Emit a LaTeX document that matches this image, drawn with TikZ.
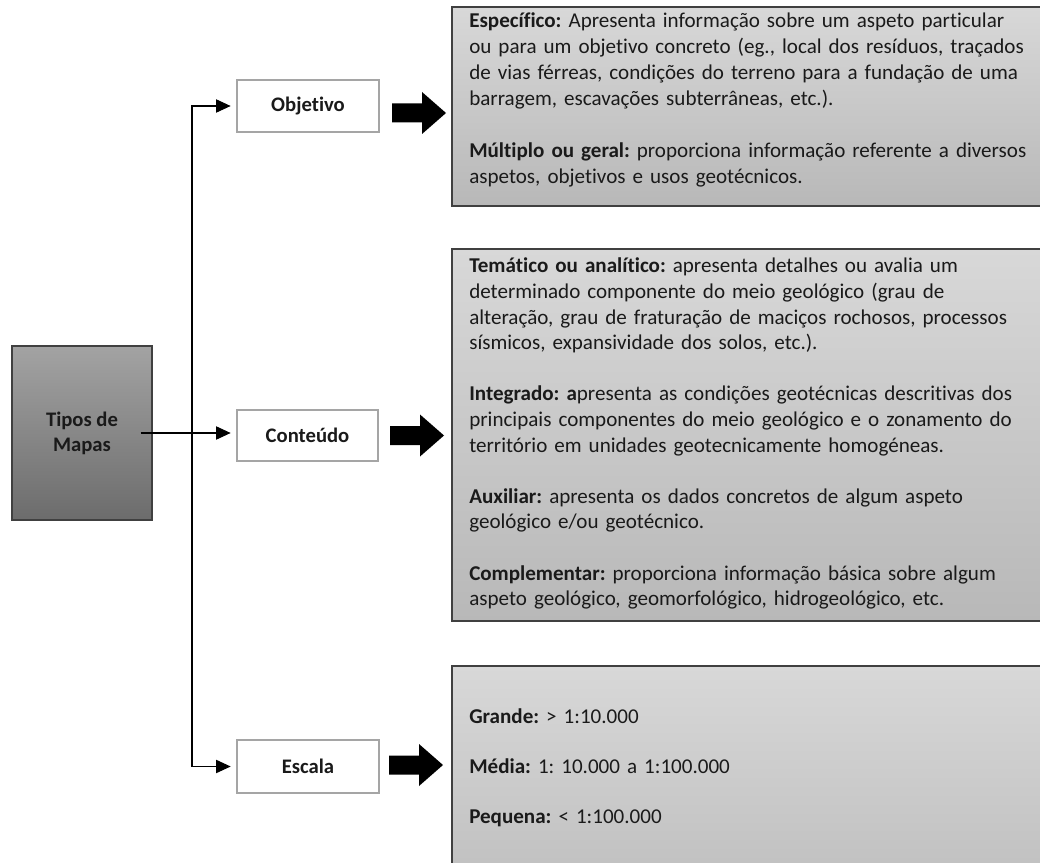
\documentclass[tikz,border=0pt]{standalone}
\usepackage{fontspec}
\setmainfont{Carlito}[Ligatures=NoCommon]
\usetikzlibrary{arrows.meta,fit}
\frenchspacing

\definecolor{inktext}{HTML}{1A1A1A}
\definecolor{boxline}{HTML}{404040}
\definecolor{catline}{HTML}{A5A5A5}
\definecolor{rootTop}{HTML}{A3A3A3}
\definecolor{rootBot}{HTML}{6C6C6C}
\definecolor{infoTop}{HTML}{D8D8D8}
\definecolor{infoBot}{HTML}{B8B8B8}
\definecolor{lowBot}{HTML}{C0C0C0}

\tikzset{
  labelfont/.style={font=\bfseries\fontsize{15.5}{18.75}\selectfont, text=inktext},
  infobox/.style={draw=boxline, line width=1.1pt, inner sep=0pt},
  catbox/.style={draw=catline, line width=1.5pt, fill=white, inner sep=0pt},
  rootbox/.style={draw=boxline, line width=1.1pt, inner sep=0pt,
    top color=rootTop, bottom color=rootBot},
  bodytext/.style={anchor=base west, inner sep=0pt, text width=470pt,
    align=left, text=inktext},
  conn/.style={draw=black, line width=0.8pt,
    -{Triangle[length=11pt,width=10pt]}, shorten >=4pt},
  blockarrow/.pic={
    \fill[black] (0,-9.5) -- (30,-9.5) -- (30,-21) -- (54,0)
      -- (30,21) -- (30,9.5) -- (0,9.5) -- cycle;
  }
}

\begin{document}
\begin{tikzpicture}[x=0.75pt,y=-0.75pt]
  % page frame (also crops the boxes that run off the right and bottom)
  \clip (0,0) rectangle (1040,863);
  \fill[white] (0,0) rectangle (1040,863);

  % description panels
  \node[infobox, top color=infoTop, bottom color=infoBot,
        fit={(452,7) (1048,206)}] (objinfo) {};
  \node[infobox, top color=infoTop, bottom color=infoBot,
        fit={(452,249) (1048,621)}] (continfo) {};
  \node[infobox, top color=infoTop, bottom color=lowBot,
        fit={(452,666) (1048,880)}] (escinfo) {};

  % root and category boxes
  \node[rootbox, fit={(12,346) (152,520)}] (tipos) {};
  \node[labelfont, align=center, inner sep=0pt] (tiposlabel) at (tipos.center) {Tipos de\\Mapas};
  \node[catbox, fit={(237,80) (379,132)}] (obj) {};
  \node[labelfont] (objlabel) at (obj.center) {Objetivo};
  \node[catbox, fit={(237,410) (378,461)}] (cont) {};
  \node[labelfont] (contlabel) at (cont.center) {Conteúdo};
  \node[catbox, fit={(237,740) (379,793)}] (esc) {};
  \node[labelfont] (esclabel) at (esc.center) {Escala};

  % connectors
  \coordinate (trunk) at (192,0);
  \draw[conn] ([xshift=-9pt]tipos.east) -- (tipos.east -| cont.west);
  \draw[conn] (trunk |- esc.west) |- (obj.west);
  \draw[conn] (trunk |- obj.west) |- (esc.west);

  % block arrows towards the panels
  \pic at (392,113) {blockarrow};
  \pic at (390,435.5) {blockarrow};
  \pic at (389,765) {blockarrow};

  % panel texts
  \node[bodytext, font=\fontsize{15.8}{19.5}\selectfont] (objtext) at (469,28) {%
    \textbf{Específico:} Apresenta informação sobre um aspeto particular\\
    ou para um objetivo concreto (eg., local dos resíduos, traçados\\
    de vias férreas, condições do terreno para a fundação de uma\\
    barragem, escavações subterrâneas, etc.).\\[19.5pt]
    \textbf{Múltiplo ou geral:} proporciona informação referente a diversos\\
    aspetos, objetivos e usos geotécnicos.};

  \node[bodytext, font=\fontsize{15.8}{19.2}\selectfont] (conttext) at (469,273) {%
    \textbf{Temático ou analítico:} apresenta detalhes ou avalia um\\
    determinado componente do meio geológico (grau de\\
    alteração, grau de fraturação de maciços rochosos, processos\\
    sísmicos, expansividade dos solos, etc.).\\[19.2pt]
    \textbf{Integrado: a}presenta as condições geotécnicas descritivas dos\\
    principais componentes do meio geológico e o zonamento do\\
    território em unidades geotecnicamente homogéneas.\\[19.2pt]
    \textbf{Auxiliar:} apresenta os dados concretos de algum aspeto\\
    geológico e/ou geotécnico.\\[19.2pt]
    \textbf{Complementar:} proporciona informação básica sobre algum\\
    aspeto geológico, geomorfológico, hidrogeológico, etc.};

  \node[bodytext, font=\fontsize{15.8}{18.75}\selectfont] (esctext) at (469,723) {%
    \textbf{Grande:} > 1:10.000\\[18.75pt]
    \textbf{Média:} 1: 10.000 a 1:100.000\\[18.75pt]
    \textbf{Pequena:} < 1:100.000};
\end{tikzpicture}
\end{document}
